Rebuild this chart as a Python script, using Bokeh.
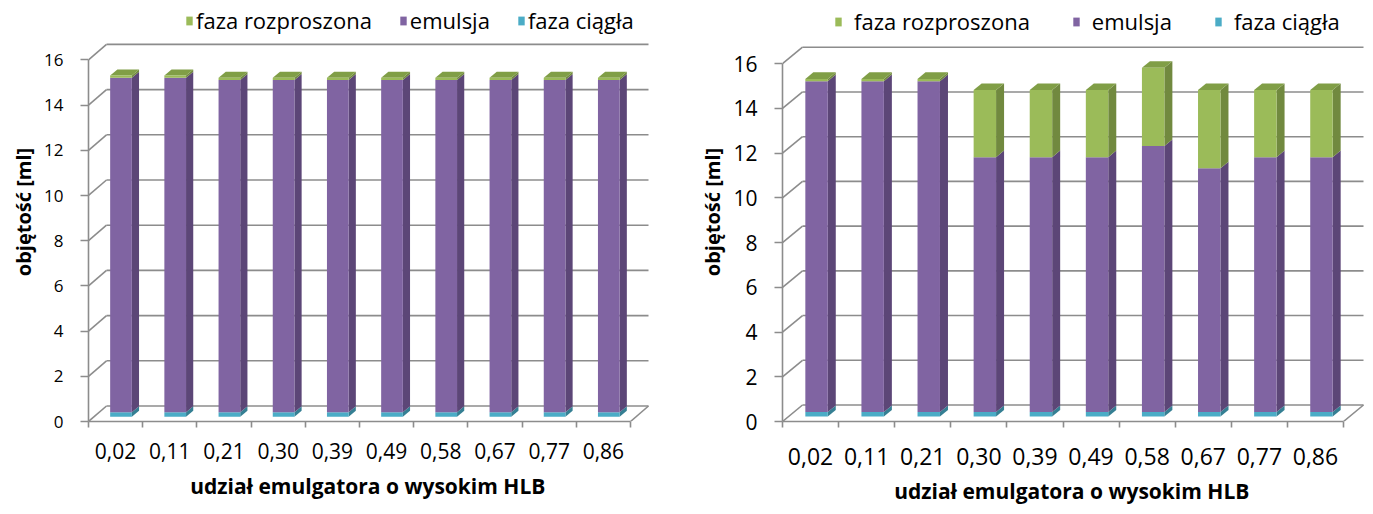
from bokeh.plotting import figure
from bokeh.layouts import row
from bokeh.models import FixedTicker, Legend, LegendItem, Range1d, Title
from bokeh.embed import file_html
from bokeh.resources import INLINE

# ---- data -------------------------------------------------------------
categories = ["0,02", "0,11", "0,21", "0,30", "0,39", "0,49", "0,58", "0,67", "0,77", "0,86"]
y_ticks = [0, 2, 4, 6, 8, 10, 12, 14, 16]
series_names = ["faza rozproszona", "emulsja", "faza ciągła"]

# left chart (stack order bottom -> top: ciągła, emulsja, rozproszona)
left_ciagla = [0.2, 0.2, 0.2, 0.2, 0.2, 0.2, 0.2, 0.2, 0.2, 0.2]
left_emulsja = [14.8, 14.8, 14.7, 14.7, 14.7, 14.7, 14.7, 14.7, 14.7, 14.7]
left_rozproszona = [0.1, 0.1, 0.1, 0.1, 0.1, 0.1, 0.1, 0.1, 0.1, 0.1]

# right chart
right_ciagla = [0.2, 0.2, 0.2, 0.2, 0.2, 0.2, 0.2, 0.2, 0.2, 0.2]
right_emulsja = [14.8, 14.8, 14.8, 11.4, 11.4, 11.4, 11.9, 10.9, 11.4, 11.4]
right_rozproszona = [0.1, 0.1, 0.1, 3.0, 3.0, 3.0, 3.5, 3.5, 3.0, 3.0]

# ---- style ------------------------------------------------------------
FONT = "Open Sans"
GRID = "#8c8c8c"
FACE = {  # front, side, top
    "faza ciągła": ("#4BACC6", "#357F93", "#6FC0D6"),
    "emulsja": ("#8064A2", "#5C4677", "#9A82B8"),
    "faza rozproszona": ("#9BBB59", "#71893F", "#809E46"),
}
Z_FRONT, Z_BACK = 0.3, 0.7   # depth band occupied by the columns
BAR_W = 0.4


def build(ciagla, emulsja, rozproszona, g):
    n = len(categories)
    x_end = g["frame_w"] / g["cat_px"]
    y_end = g["frame_h"] / g["unit_px"]
    ddx = g["depth_px"][0] / g["cat_px"]
    ddy = g["depth_px"][1] / g["unit_px"]

    p = figure(width=g["width"], height=514,
               x_range=Range1d(0, x_end), y_range=Range1d(0, y_end),
               output_backend="svg", toolbar_location=None,
               min_border_left=g["left"],
               min_border_right=g["width"] - g["left"] - g["frame_w"],
               min_border_top=g["top"],
               min_border_bottom=514 - g["top"] - g["frame_h"])
    p.outline_line_color = None
    p.xgrid.visible = False
    p.ygrid.visible = False
    p.background_fill_color = "white"

    # back wall gridlines and the left wall diagonals
    top_val = y_ticks[-1]
    gx0, gy0, gx1, gy1 = [], [], [], []
    for v in y_ticks:
        gx0 += [ddx, 0]
        gy0 += [v + ddy, v]
        gx1 += [n + ddx, ddx]
        gy1 += [v + ddy, v + ddy]
    # floor: right edge
    gx0.append(n); gy0.append(0); gx1.append(n + ddx); gy1.append(ddy)
    p.segment(gx0, gy0, gx1, gy1, line_color=GRID, line_width=1.6)

    # stacked 3D columns
    stack = [("faza ciągła", ciagla), ("emulsja", emulsja), ("faza rozproszona", rozproszona)]
    base = [0.0] * n
    front_renderers = {}
    for k, (name, vals) in enumerate(stack):
        front, side, topc = FACE[name]
        lo = base[:]
        hi = [b + v for b, v in zip(base, vals)]
        xl = [i + 0.5 - BAR_W / 2 for i in range(n)]
        xr = [i + 0.5 + BAR_W / 2 for i in range(n)]
        # side faces
        sxs = [[r + Z_FRONT * ddx, r + Z_BACK * ddx, r + Z_BACK * ddx, r + Z_FRONT * ddx] for r in xr]
        sys_ = [[a + Z_FRONT * ddy, a + Z_BACK * ddy, b + Z_BACK * ddy, b + Z_FRONT * ddy]
                for a, b in zip(lo, hi)]
        p.patches(sxs, sys_, fill_color=side, line_color=None)
        # top faces of the uppermost segment
        if k == len(stack) - 1:
            txs = [[l + Z_FRONT * ddx, r + Z_FRONT * ddx, r + Z_BACK * ddx, l + Z_BACK * ddx]
                   for l, r in zip(xl, xr)]
            tys = [[b + Z_FRONT * ddy, b + Z_FRONT * ddy, b + Z_BACK * ddy, b + Z_BACK * ddy] for b in hi]
            p.patches(txs, tys, fill_color=topc, line_color=None)
        # front faces
        r = p.quad(left=[l + Z_FRONT * ddx for l in xl], right=[x + Z_FRONT * ddx for x in xr],
                   bottom=[a + Z_FRONT * ddy for a in lo], top=[b + Z_FRONT * ddy for b in hi],
                   fill_color=front, line_color=None)
        front_renderers[name] = r
        base = hi

    # value axis
    ya = p.yaxis[0]
    ya.ticker = FixedTicker(ticks=y_ticks)
    ya.bounds = (0, top_val)
    ya.axis_line_color = GRID
    ya.axis_line_width = 1.6
    ya.major_tick_line_color = GRID
    ya.major_tick_line_width = 1.6
    ya.major_tick_out = 8
    ya.major_tick_in = 0
    ya.minor_tick_line_color = None
    ya.major_label_standoff = 17
    ya.major_label_text_font = FONT
    ya.major_label_text_font_size = g["ytick_size"]
    ya.major_label_text_color = "black"

    # value-axis title, centred on the 0..16 span rather than the whole frame
    p.add_layout(Title(text="objętość [ml]", align="center", offset=g["ytitle_offset"],
                       standoff=g["ytitle_standoff"],
                       text_font=FONT, text_font_size="20px", text_font_style="bold",
                       text_color="black"), "left")

    # category axis: labels in the middle, tick marks between categories
    xa = p.xaxis[0]
    centers = [i + 0.5 for i in range(n)]
    xa.ticker = FixedTicker(ticks=centers, minor_ticks=list(range(n + 1)))
    xa.major_label_overrides = {c: lab for c, lab in zip(centers, categories)}
    xa.bounds = (0, n)
    xa.axis_line_color = GRID
    xa.axis_line_width = 1.6
    xa.major_tick_line_color = None
    xa.major_tick_out = 0
    xa.major_tick_in = 0
    xa.minor_tick_line_color = GRID
    xa.minor_tick_line_width = 1.6
    xa.minor_tick_out = 6
    xa.minor_tick_in = 0
    xa.major_label_standoff = g["xlab_standoff"]
    xa.major_label_text_font = FONT
    xa.major_label_text_font_size = g["xtick_size"]
    xa.major_label_text_color = "black"
    xa.axis_label = "udział  emulgatora o wysokim HLB"
    xa.axis_label_text_font = FONT
    xa.axis_label_text_font_style = "bold"
    xa.axis_label_text_font_size = "21px"
    xa.axis_label_text_color = "black"
    xa.axis_label_standoff = g["xtitle_standoff"]

    # legend across the top of the frame
    leg = Legend(items=[LegendItem(label=name, renderers=[front_renderers[name]])
                        for name in series_names],
                 location=g["legend_pos"], orientation="horizontal",
                 padding=0, margin=0, spacing=g["legend_spacing"],
                 glyph_width=8, glyph_height=11, label_standoff=g["legend_standoff"],
                 label_height=20,
                 label_text_font=FONT, label_text_font_size="22px",
                 label_text_color="black",
                 background_fill_alpha=0, border_line_color=None)
    p.add_layout(leg)
    return p


# both frames share the same top and bottom edges (frames in a row are aligned)
left_geom = dict(width=686, left=88, top=2, frame_w=564, frame_h=419,
                 cat_px=54.2, unit_px=22.6, depth_px=(18, 15.5),
                 ytick_size="17px", xtick_size="21px", xlab_standoff=15, xtitle_standoff=10,
                 ytitle_offset=-29, ytitle_standoff=9,
                 legend_pos=(97, 386), legend_spacing=27, legend_standoff=3)
right_geom = dict(width=687, left=96, top=2, frame_w=584, frame_h=419,
                  cat_px=56.1, unit_px=22.36, depth_px=(20, 16.5),
                  ytick_size="21px", xtick_size="23px", xlab_standoff=20, xtitle_standoff=9,
                  ytitle_offset=-40, ytitle_standoff=9,
                  legend_pos=(52, 385), legend_spacing=42, legend_standoff=12)

p_left = build(left_ciagla, left_emulsja, left_rozproszona, left_geom)
p_right = build(right_ciagla, right_emulsja, right_rozproszona, right_geom)

layout = row(p_left, p_right)
open("out.html", "w").write(file_html(layout, INLINE))
